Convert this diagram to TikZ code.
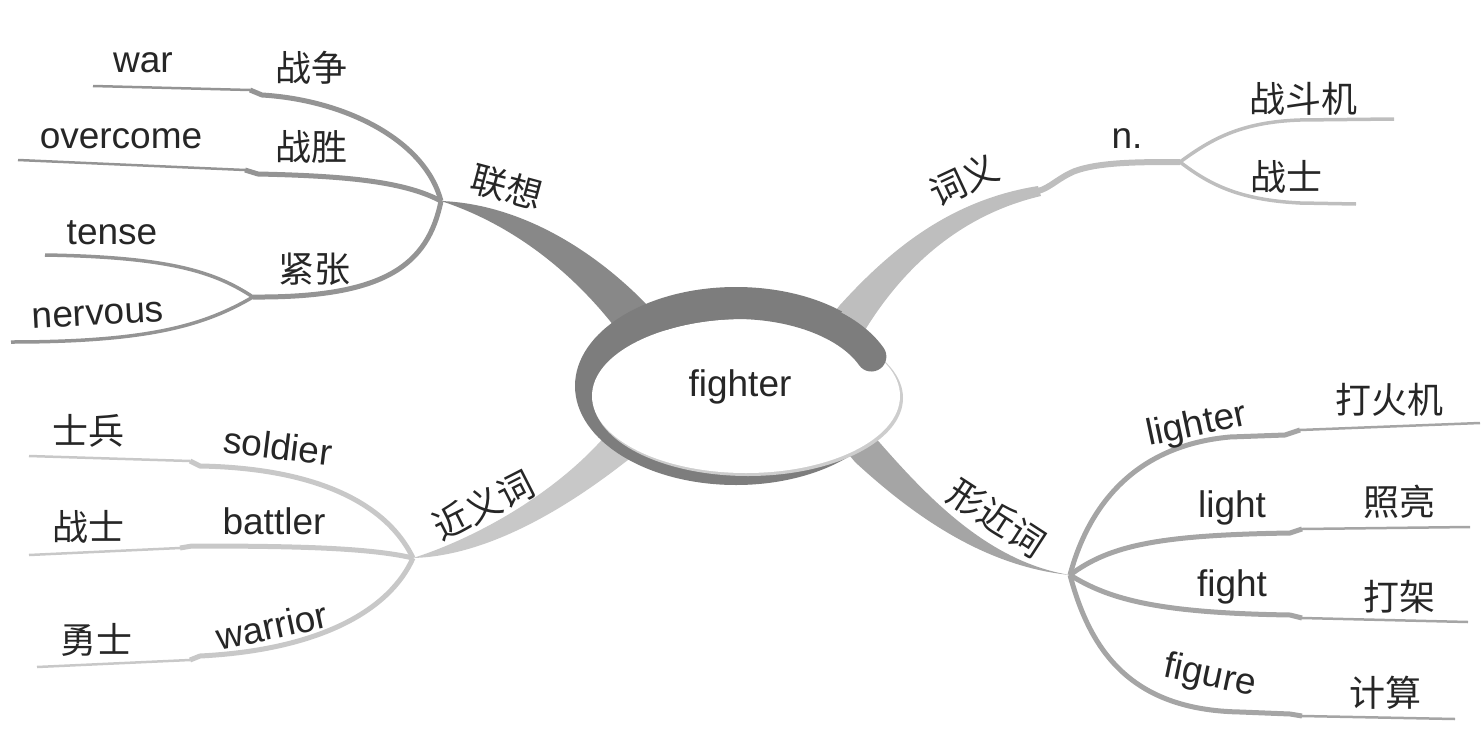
\documentclass[tikz,border=0pt]{standalone}
\usepackage{fontspec}
\setmainfont{Liberation Sans}
\newfontfamily\cjk{Noto Sans CJK SC}

\definecolor{ringgray}{RGB}{125,125,125}
\definecolor{rimgray}{RGB}{205,205,205}
\definecolor{assocgray}{RGB}{148,148,148}
\definecolor{meangray}{RGB}{190,190,190}
\definecolor{syngray}{RGB}{200,200,200}
\definecolor{formgray}{RGB}{165,165,165}

\tikzset{
  word/.style={inner sep=0pt,text=black!85,font=\fontsize{37}{40}\selectfont},
  zh/.style={inner sep=0pt,text=black!85,font=\fontsize{36}{40}\selectfont\cjk},
  twig/.style={line width=2.5pt},
  limb/.style={line width=5pt},
}

\begin{document}
\begin{tikzpicture}[x=1pt,y=-1pt]
\path[use as bounding box] (0,0) rectangle (1484,755);

% hubs
\coordinate (assoc) at (441,201);
\coordinate (nervy) at (253,297);
\coordinate (mean) at (1180,162);
\coordinate (mean-k) at (1038,191);
\coordinate (syn) at (413,558);
\coordinate (form) at (1070,575);

% ---- lianxiang (top left)
\fill[assocgray!92!black] (assoc) .. controls (520,204) and (595,250) .. (650,308) -- (662,320) -- (626,342) -- (614,326) .. controls (565,264) and (505,222) .. (assoc) -- cycle;
\coordinate (war-end) at (93,86);
\coordinate (war-k1) at (250,90);
\coordinate (war-k2) at (262,95);
\draw[twig,assocgray] (war-end) -- (war-k1);
\draw[limb,assocgray] (war-k1) -- (war-k2) .. controls (345,100) and (425,140) .. (assoc);
\coordinate (oc-end) at (18,160);
\coordinate (oc-k1) at (245,170);
\coordinate (oc-k2) at (258,174);
\draw[twig,assocgray] (oc-end) -- (oc-k1);
\draw[limb,assocgray] (oc-k1) -- (oc-k2) .. controls (350,176) and (405,182) .. (assoc);
\draw[limb,assocgray] (assoc) .. controls (428,265) and (385,298) .. (nervy);
\coordinate (tense-end) at (45,255);
\coordinate (nerv-end) at (11,342);
\draw[line width=3.5pt,assocgray] (nervy) .. controls (215,272) and (170,257) .. (tense-end);
\draw[line width=3.5pt,assocgray] (nervy) .. controls (205,325) and (150,342) .. (nerv-end);

\node[word] (war) at (143,63) {war};
\node[zh] (zhanzheng) at (311,68) {战争};
\node[word] (overcome) at (121,139) {overcome};
\node[zh] (zhansheng) at (311,147) {战胜};
\node[word] (tense) at (112,233) {tense};
\node[word,rotate=3] (nervous) at (98,315) {nervous};
\node[zh] (jinzhang) at (314,269) {紧张};
\node[zh,rotate=-15] (lianxiang) at (507,187) {联想};

% ---- ciyi (top right)
\fill[meangray] (832,315) -- (840,305) .. controls (890,250) and (950,200) .. (1038,186) -- (1041,196) .. controls (960,215) and (902,268) .. (862,335) -- cycle;
\draw[line width=6pt,meangray] (mean-k) .. controls (1050,188) and (1058,178) .. (1075,171) .. controls (1100,162) and (1140,162) .. (mean);
\coordinate (jet-end) at (1394,119);
\coordinate (man-end) at (1356,204);
\draw[line width=3.5pt,meangray] (mean) .. controls (1210,140) and (1240,122) .. (1300,120) -- (jet-end);
\draw[line width=3.5pt,meangray] (mean) .. controls (1210,185) and (1240,200) .. (1300,203) -- (man-end);

\node[zh,rotate=25] (ciyi) at (964,180) {词义};
\node[word] (noun) at (1127,139) {n.};
\node[zh] (zhandouji) at (1303,99) {战斗机};
\node[zh] (zhanshi) at (1286,177) {战士};

% ---- jinyici (bottom left)
\fill[syngray] (syn) .. controls (470,540) and (545,500) .. (597,445) -- (610,431) -- (640,451) -- (624,463) .. controls (570,505) and (490,556) .. (syn) -- cycle;
\coordinate (sol-end) at (29,456);
\coordinate (sol-k1) at (190,461);
\coordinate (sol-k2) at (200,466);
\draw[twig,syngray] (sol-end) -- (sol-k1);
\draw[limb,syngray] (sol-k1) -- (sol-k2) .. controls (310,468) and (385,500) .. (syn);
\coordinate (bat-end) at (29,555);
\coordinate (bat-k1) at (180,548);
\coordinate (bat-k2) at (192,546);
\draw[twig,syngray] (bat-end) -- (bat-k1);
\draw[limb,syngray] (bat-k1) -- (bat-k2) .. controls (300,546) and (370,548) .. (syn);
\coordinate (war2-end) at (37,667);
\coordinate (war2-k1) at (190,660);
\coordinate (war2-k2) at (200,656);
\draw[twig,syngray] (war2-end) -- (war2-k1);
\draw[limb,syngray] (war2-k1) -- (war2-k2) .. controls (320,650) and (390,610) .. (syn);

\node[zh] (shibing) at (88,431) {士兵};
\node[word,rotate=-7] (soldier) at (278,446) {soldier};
\node[zh] (zhanshi2) at (88,527) {战士};
\node[word] (battler) at (274,521) {battler};
\node[zh] (yongshi) at (96,640) {勇士};
\node[word,rotate=12] (warrior) at (272,626) {warrior};
\node[zh,rotate=27] (jinyici) at (483,505) {近义词};

% ---- xingjinci (bottom right)
\fill[formgray] (872,434) -- (880,443) .. controls (930,500) and (990,562) .. (form) .. controls (990,567) and (920,522) .. (855,462) -- (840,444) -- cycle;
\coordinate (lter-k1) at (1285,435);
\coordinate (lter-k2) at (1300,430);
\coordinate (lter-end) at (1480,423);
\draw[limb,formgray] (form) .. controls (1090,500) and (1140,445) .. (1230,437) -- (lter-k1) -- (lter-k2);
\draw[twig,formgray] (lter-k2) -- (lter-end);
\coordinate (lt-k1) at (1290,533);
\coordinate (lt-k2) at (1302,529);
\coordinate (lt-end) at (1470,527);
\draw[limb,formgray] (form) .. controls (1110,545) and (1160,535) .. (lt-k1) -- (lt-k2);
\draw[twig,formgray] (lt-k2) -- (lt-end);
\coordinate (ft-k1) at (1290,615);
\coordinate (ft-k2) at (1302,618);
\coordinate (ft-end) at (1468,622);
\draw[limb,formgray] (form) .. controls (1110,600) and (1160,613) .. (ft-k1) -- (ft-k2);
\draw[twig,formgray] (ft-k2) -- (ft-end);
\coordinate (fg-k1) at (1290,714);
\coordinate (fg-k2) at (1302,716);
\coordinate (fg-end) at (1455,719);
\draw[limb,formgray] (form) .. controls (1090,650) and (1130,710) .. (1240,712) -- (fg-k1) -- (fg-k2);
\draw[twig,formgray] (fg-k2) -- (fg-end);

\node[zh,rotate=-33] (xingjinci) at (997,518) {形近词};
\node[word,rotate=12] (lighter) at (1197,426) {lighter};
\node[zh] (dahuoji) at (1389,400) {打火机};
\node[word] (light) at (1232,508) {light};
\node[zh] (zhaoliang) at (1399,502) {照亮};
\node[word] (fight) at (1232,587) {fight};
\node[zh] (dajia) at (1399,597) {打架};
\node[word,rotate=-12] (figure) at (1210,677) {figure};
\node[zh] (jisuan) at (1385,693) {计算};

% ---- centre ring
\begin{scope}
  \clip (736,386) -- (982,214) -- (982,40) -- (450,40) -- (450,720) -- (1040,720) -- (1031,438) -- cycle;
  \fill[ringgray] (736,386) ellipse [x radius=161, y radius=99];
\end{scope}
\fill[rimgray] (748,398) ellipse [x radius=155, y radius=78];
\fill[white] (746,396) ellipse [x radius=154, y radius=77];
\draw[ringgray,line width=30pt,line cap=round] (736,388) ++(-120:146 and 84) arc[start angle=-120, end angle=-22, x radius=146, y radius=84];
\node[word] (fighter) at (740,387) {fighter};
\end{tikzpicture}
\end{document}
